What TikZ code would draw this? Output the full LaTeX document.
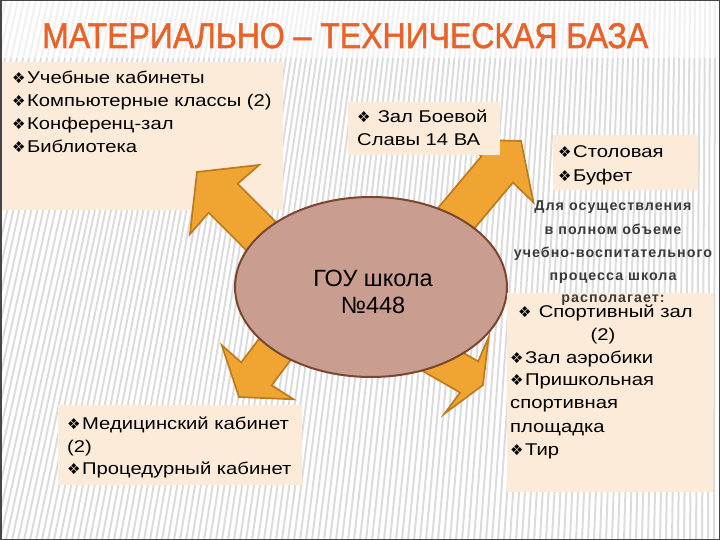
\documentclass[tikz,border=0pt]{standalone}
\usepackage{graphicx}
\usepackage{fontspec}
\setmainfont{Liberation Sans}
\newfontfamily\boxfont[FakeStretch=1.19]{Liberation Sans}
\newfontfamily\titlefont[FakeBold=1.5]{Liberation Sans}
\newfontfamily\symfont{DejaVu Sans}
\newfontfamily\spacedfont[LetterSpace=7]{Liberation Sans}
\usetikzlibrary{shapes.geometric}
\definecolor{titlecol}{HTML}{E8622A}
\definecolor{boxfill}{HTML}{FCEBD8}
\definecolor{arrfill}{HTML}{F0A432}
\definecolor{arrline}{HTML}{BF7A1C}
\definecolor{ellfill}{HTML}{C99E90}
\definecolor{ellline}{HTML}{7A4630}
\definecolor{paracol}{HTML}{3A3A3A}
\definecolor{stripecol}{HTML}{DCDCDC}
\newcommand{\bul}{{\symfont\fontsize{15}{15}\selectfont ❖}\hspace{1.5pt}}
\newcommand{\fatarrow}[8]{%
  \begin{scope}[shift={(#1,#2)}, rotate=#3]
    \draw[arr] (0,0) -- (-#5,#6) -- (-#7,#8) -- (-#4,#8) -- (-#4,-#8) -- (-#7,-#8) -- (-#5,-#6) -- cycle;
  \end{scope}}
\begin{document}
\begin{tikzpicture}[x=1pt,y=-1pt,
  box/.style={fill=boxfill},
  txt/.style={anchor=base west, inner sep=0pt, font=\boxfont\fontsize{17}{20}\selectfont},
  ctxt/.style={anchor=base, inner sep=0pt, font=\boxfont\fontsize{17}{20}\selectfont},
  para/.style={anchor=base, inner sep=0pt, text=paracol, font=\spacedfont\bfseries\fontsize{14.3}{16}\selectfont},
  arr/.style={fill=arrfill, draw=arrline, line width=1.7pt, line join=miter},
  stripe/.style={draw=stripecol, line width=2pt},
]
\useasboundingbox (0,0) rectangle (720,540);
\fill[white] (0,0) rectangle (720,540);
\foreach \x in {-150,-144,...,720} {
  \pgfmathsetmacro\k{120*min(1,1-\x/720)}
  \draw[stripe] (\x,540) -- (\x+\k,0);
}
\fill[white,opacity=0.6] (0,0) rectangle (720,58);

\node[anchor=base west, inner sep=0pt, text=titlecol] (title) at (42,48)
  {\resizebox{606pt}{25pt}{\titlefont МАТЕРИАЛЬНО – ТЕХНИЧЕСКАЯ БАЗА}};

% top-left box
\fill[box] (2,62) rectangle (283,210);

% arrows
\fatarrow{197}{172}{135}{150}{39}{49}{37}{20.5}
\fatarrow{521}{141}{50}{170}{39}{49}{37}{20.5}
\fatarrow{239}{397}{233}{120}{31}{45}{29}{19}
\fatarrow{483}{385}{-30}{110}{19}{44}{16}{18}

% centre
\node[ellipse, draw=ellline, fill=ellfill, line width=2pt, minimum width=272pt, minimum height=180pt, inner sep=0pt] (school) at (371,287) {};
\node[anchor=base, inner sep=0pt, font=\fontsize{23.5}{28}\selectfont] (school1) at (373,286) {ГОУ школа};
\node[anchor=base, inner sep=0pt, font=\fontsize{23.5}{28}\selectfont] (school2) at (373,313) {№448};

% top-left text
\node[txt] (tl1) at (12,84) {\bul Учебные кабинеты};
\node[txt] (tl2) at (12,107) {\bul Компьютерные классы (2)};
\node[txt] (tl3) at (12,130) {\bul Конференц-зал};
\node[txt] (tl4) at (12,153) {\bul Библиотека};

% Zal Boevoy Slavy
\fill[box] (348,102) rectangle (500,155);
\node[txt] (z1) at (357,123) {\bul\ Зал Боевой};
\node[txt] (z2) at (357,146) {Славы 14 ВА};

% Stolovaya
\fill[box] (553,135) rectangle (698,190);
\node[txt] (s1) at (558,158) {\bul Столовая};
\node[txt] (s2) at (558,182) {\bul Буфет};

% sports box
\fill[box] (507,293) rectangle (713,492);
\node[txt] (sp1) at (518,317) {\bul\ Спортивный зал};
\node[ctxt] (sp2) at (603,340) {(2)};
\node[txt] (sp3) at (510,363) {\bul Зал аэробики};
\node[txt] (sp4) at (510,385) {\bul Пришкольная};
\node[txt] (sp5) at (510,408) {спортивная};
\node[txt] (sp6) at (510,432) {площадка};
\node[txt] (sp7) at (510,455) {\bul Тир};

% paragraph
\node[para] (p1) at (613,211) {Для осуществления};
\node[para] (p2) at (613,234) {в полном объеме};
\node[para] (p3) at (613,257) {учебно-воспитательного};
\node[para] (p4) at (613,280) {процесса школа};
\node[para] (p5) at (613,302) {располагает:};

% medical box
\fill[box] (58,405) rectangle (302,485);
\node[txt] (m1) at (67,429) {\bul Медицинский кабинет};
\node[txt] (m2) at (67,452) {(2)};
\node[txt] (m3) at (67,474) {\bul Процедурный кабинет};

\draw[gray!55!black, line width=3pt] (0,0) rectangle (720,540);
\end{tikzpicture}
\end{document}
